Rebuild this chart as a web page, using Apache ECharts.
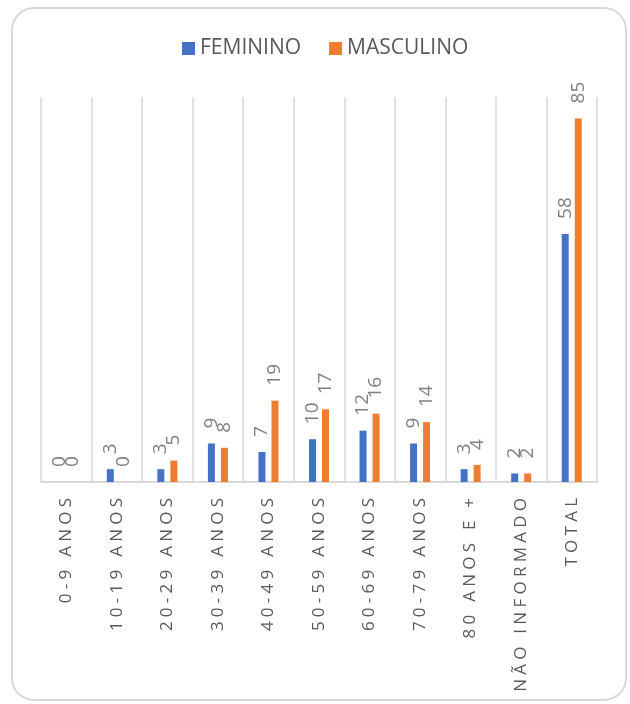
<!DOCTYPE html>
<html>
<head>
<meta charset="utf-8">
<script src="https://cdn.jsdelivr.net/npm/echarts@6/dist/echarts.min.js"></script>
<style>
html,body{margin:0;padding:0;background:#fff;}
#main{width:630px;height:704px;}
</style>
</head>
<body>
<div id="main"></div>
<script>
const categories = ['0-9 ANOS','10-19 ANOS','20-29 ANOS','30-39 ANOS','40-49 ANOS','50-59 ANOS','60-69 ANOS','70-79 ANOS','80 ANOS E +','NÃO INFORMADO','TOTAL'];
const feminino = [0, 3, 3, 9, 7, 10, 12, 9, 3, 2, 58];
const masculino = [0, 0, 5, 8, 19, 17, 16, 14, 4, 2, 85];
const seriesNames = ['FEMININO', 'MASCULINO'];

const FONT = '"Open Sans", "Liberation Sans", sans-serif';
const spaced = s => Array.from(s).join('\u2005');

const chart = echarts.init(document.getElementById('main'), null, {renderer: 'canvas'});
const labelCfg = {
  show: true,
  position: 'top',
  rotate: 90,
  align: 'left',
  verticalAlign: 'middle',
  distance: 15,
  fontFamily: FONT,
  fontSize: 19,
  color: '#808080'
};
chart.setOption({
  animation: false,
  backgroundColor: '#ffffff',
  graphic: [{
    type: 'rect',
    shape: {x: 12, y: 8, width: 614, height: 692, r: 22},
    style: {fill: 'none', stroke: '#d9d9d9', lineWidth: 2},
    silent: true,
    z: -10
  }],
  legend: {
    data: seriesNames,
    top: 33,
    left: 177,
    icon: 'rect',
    itemWidth: 13,
    itemHeight: 13,
    itemGap: 28,
    textStyle: {fontFamily: FONT, fontSize: 21, color: '#595959'}
  },
  grid: {left: 41, right: 33, top: 97, bottom: 222, containLabel: false},
  xAxis: {
    type: 'category',
    data: categories,
    axisLine: {show: true, lineStyle: {color: '#d9d9d9', width: 2}},
    axisTick: {show: false},
    splitLine: {show: true, lineStyle: {color: '#d9d9d9', width: 1.5}},
    axisLabel: {
      interval: 0,
      rotate: 90,
      margin: 16,
      fontFamily: FONT,
      fontSize: 17,
      color: '#595959',
      formatter: v => spaced(v)
    }
  },
  yAxis: {
    type: 'value',
    min: 0,
    max: 90,
    interval: 10,
    show: false,
    splitLine: {show: false}
  },
  series: [
    {
      name: seriesNames[0],
      type: 'bar',
      data: feminino,
      barWidth: 7,
      barGap: '86%',
      itemStyle: {color: '#4472C4'},
      label: labelCfg
    },
    {
      name: seriesNames[1],
      type: 'bar',
      data: masculino,
      barWidth: 7,
      barGap: '86%',
      itemStyle: {color: '#ED7D31'},
      label: labelCfg
    }
  ]
});
</script>
</body>
</html>
